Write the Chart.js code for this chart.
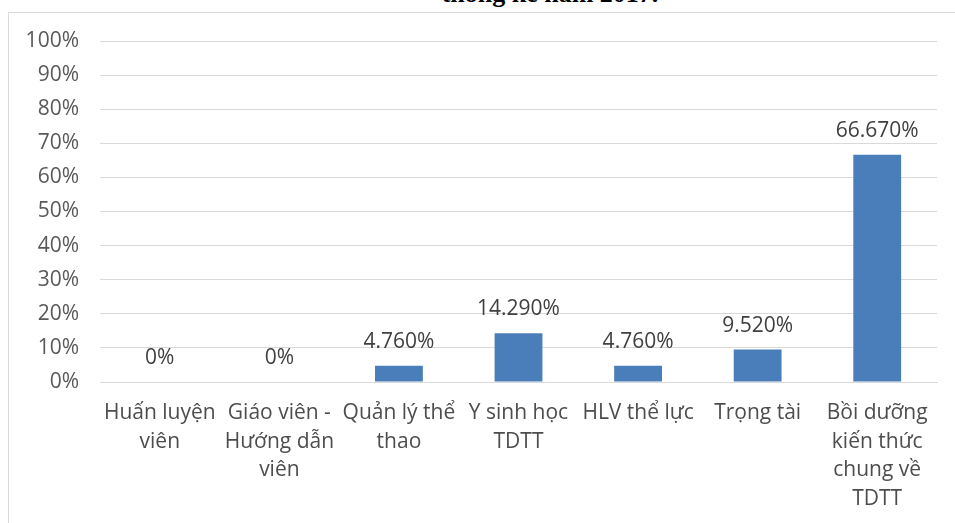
<!DOCTYPE html>
<html>
<head>
<meta charset="utf-8">
<script src="https://cdn.jsdelivr.net/npm/chart.js@4.4.1/dist/chart.umd.min.js"></script>
<style>
    html, body { margin: 0; padding: 0; background: #fff; overflow: hidden; }
    #page { position: relative; width: 955px; height: 523px; overflow: hidden; }
    #title {
        position: absolute; left: 0; width: 1100px; top: -19px; text-align: center;
        font: bold 26px "Liberation Serif", serif; line-height: 1; color: #000;
    }
    #frame {
        position: absolute; left: 8px; top: 12px; width: 980px; height: 560px;
        border: 1px solid #d9d9d9; box-sizing: border-box;
    }
    #wrap { position: absolute; left: 0; top: 0; width: 955px; height: 523px; }
</style>
</head>
<body>
<div id="page">
    <div id="title">thống kê năm 2017.</div>
    <div id="frame"></div>
    <div id="wrap"><canvas id="chart"></canvas></div>
</div>
<script>
// Nhóm nội dung bồi dưỡng
const categories = [
    ['Huấn luyện', 'viên'],
    ['Giáo viên -', 'Hướng dẫn', 'viên'],
    ['Quản lý thể', 'thao'],
    ['Y sinh học', 'TDTT'],
    ['HLV thể lực'],
    ['Trọng tài'],
    ['Bồi dưỡng', 'kiến thức', 'chung về', 'TDTT']
];
// Tỷ lệ (%)
const values = [0, 0, 4.76, 14.29, 4.76, 9.52, 66.67];
const yTicks = [0, 10, 20, 30, 40, 50, 60, 70, 80, 90, 100];

const BAR_COLOR = '#4a7ebb';
const FONT = '"Open Sans", sans-serif';

const fmtLabel = v => v === 0 ? '0%' : v.toFixed(3) + '%';

// value labels above bars
const barLabels = {
    id: 'barLabels',
    afterDatasetsDraw(chart) {
        const ctx = chart.ctx;
        const meta = chart.getDatasetMeta(0);
        ctx.save();
        ctx.font = '21px ' + FONT;
        ctx.fillStyle = '#404040';
        ctx.textAlign = 'center';
        ctx.textBaseline = 'alphabetic';
        meta.data.forEach((bar, i) => {
            ctx.fillText(fmtLabel(values[i]), bar.x, bar.y - 18);
        });
        ctx.restore();
    }
};

new Chart(document.getElementById('chart'), {
    type: 'bar',
    data: {
        labels: categories,
        datasets: [{
            data: values,
            backgroundColor: BAR_COLOR,
            borderWidth: 0,
            barPercentage: 0.4,
            categoryPercentage: 1
        }]
    },
    options: {
        responsive: true,
        maintainAspectRatio: false,
        animation: false,
        layout: { padding: { left: 0, right: 18, top: 41, bottom: 0 } },
        plugins: { legend: { display: false }, tooltip: { enabled: false } },
        scales: {
            x: {
                grid: { display: false, drawTicks: false },
                border: { display: true, color: '#d9d9d9', width: 1 },
                ticks: {
                    color: '#4d4d4d',
                    font: { family: FONT, size: 21, lineHeight: 1.36 },
                    padding: 17,
                    maxRotation: 0,
                    autoSkip: false
                },
                afterFit: s => { s.height = 523 - 382; }
            },
            y: {
                min: 0,
                max: 100,
                grid: { color: '#d9d9d9', drawTicks: false },
                border: { display: false },
                afterBuildTicks: s => { s.ticks = yTicks.map(v => ({ value: v })); },
                ticks: {
                    color: '#595959',
                    font: { family: FONT, size: 21 },
                    padding: 21,
                    callback: v => v + '%'
                },
                afterFit: s => { s.width = 100; }
            }
        }
    },
    plugins: [barLabels]
});
</script>
</body>
</html>
